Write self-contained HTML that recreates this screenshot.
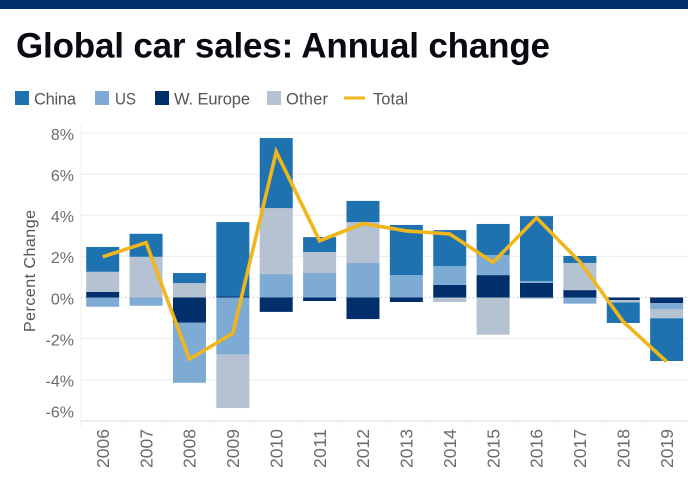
<!DOCTYPE html>
<html lang="en">
<head>
<meta charset="utf-8">
<title>Global car sales: Annual change</title>
<style>
html,body{margin:0;padding:0;background:#fff;width:688px;height:483px;overflow:hidden}
svg{display:block;font-family:"Liberation Sans",sans-serif}
</style>
</head>
<body>
<svg id="chart" width="688" height="483" viewBox="0 0 688 483" xmlns="http://www.w3.org/2000/svg">
  <rect x="0" y="0" width="688" height="9" fill="#002f6c"/>
  <text x="16" y="57.5" font-size="35" font-weight="700" fill="#0a0a12" textLength="534" lengthAdjust="spacing">Global car sales: Annual change</text>
  <g font-size="16.5" fill="#555">
    <g>
      <rect x="15" y="91" width="14" height="14" fill="#1f72b0"/>
      <text x="34" y="104.5" textLength="42" lengthAdjust="spacing">China</text>
    </g>
    <g>
      <rect x="95" y="91" width="14" height="14" fill="#7eabd3"/>
      <text x="115" y="104.5" textLength="21" lengthAdjust="spacingAndGlyphs">US</text>
    </g>
    <g>
      <rect x="155" y="91" width="14" height="14" fill="#002f6c"/>
      <text x="174" y="104.5" textLength="76" lengthAdjust="spacing">W. Europe</text>
    </g>
    <g>
      <rect x="267" y="91" width="14" height="14" fill="#b5c2d1"/>
      <text x="286" y="104.5" textLength="42" lengthAdjust="spacing">Other</text>
    </g>
    <g>
      <line x1="344" x2="365" y1="98" y2="98" stroke="#f0b61c" stroke-width="3"/>
      <text x="373" y="104.5" textLength="35" lengthAdjust="spacing">Total</text>
    </g>
  </g>
  <text transform="translate(35,332) rotate(-90)" font-size="16" fill="#555" textLength="122" lengthAdjust="spacing">Percent Change</text>
  <g id="plot"></g>
</svg>
<script>
const years = ["2006","2007","2008","2009","2010","2011","2012","2013","2014","2015","2016","2017","2018","2019"];
const wEurope = [0.27,0,-1.23,0.05,-0.7,-0.17,-1.05,-0.22,0.61,1.09,0.71,0.36,-0.13,-0.27];
const us = [-0.45,-0.4,-2.92,-2.78,1.14,1.19,1.68,1.09,0.92,0.98,0.09,-0.3,0,-0.29];
const other = [0.98,1.98,0.7,-2.6,3.21,1.02,1.99,0,-0.22,-1.81,-0.07,1.32,-0.11,-0.45];
const china = [1.21,1.12,0.49,3.62,3.41,0.73,1.03,2.44,1.75,1.51,3.16,0.34,-1.0,-2.08];
const total = [1.98,2.67,-3.0,-1.74,7.09,2.76,3.6,3.24,3.09,1.71,3.88,1.74,-1.18,-3.12];
const yTicks = [8,6,4,2,0,-2,-4,-6];

const NS = "http://www.w3.org/2000/svg";
const plot = document.getElementById("plot");
const PLOT_LEFT = 81, PLOT_RIGHT = 688, PLOT_TOP = 125, PLOT_BOTTOM = 421;
const ZERO_Y = 297.5, PX_PER_UNIT = 20.55;
const FIRST_X = 102.7, STEP_X = 43.38, BAR_W = 33;

function yScale(v){ return ZERO_Y - v * PX_PER_UNIT; }
function xScale(i){ return FIRST_X + i * STEP_X; }
function make(tag, attrs){
  const el = document.createElementNS(NS, tag);
  for (const k in attrs) el.setAttribute(k, attrs[k]);
  return el;
}

// vertical axis edge and horizontal grid
const axisEdge = make("line", {x1:PLOT_LEFT, x2:PLOT_LEFT, y1:PLOT_TOP, y2:PLOT_BOTTOM + 6, stroke:"#efefef", "stroke-width":1});


plot.appendChild(axisEdge);

yTicks.forEach(function(t){
  if (t !== 0 && t !== -6) {
    const g = make("line", {x1:PLOT_LEFT, x2:PLOT_RIGHT, y1:yScale(t), y2:yScale(t), stroke:"#ececec", "stroke-width":1});
    
    
    plot.appendChild(g);
  }
  const labelY = Math.min(yScale(t), 410.5) + 6.8;
  const lab = make("text", {x:74, y:labelY, "text-anchor":"end", "font-size":16, fill:"#6b6b6b"});
  
  
  lab.textContent = t + "%";
  plot.appendChild(lab);
});

const baseLine = make("line", {x1:PLOT_LEFT, x2:PLOT_RIGHT, y1:PLOT_BOTTOM, y2:PLOT_BOTTOM, stroke:"#ececec", "stroke-width":2});


plot.appendChild(baseLine);

const zeroLine = make("line", {x1:PLOT_LEFT, x2:PLOT_RIGHT, y1:ZERO_Y, y2:ZERO_Y, stroke:"#a9b4bf", "stroke-width":1, "stroke-dasharray":"1 3"});


plot.appendChild(zeroLine);

// stacked bars: navy, US, other, China outward from zero
const stackOrder = [[wEurope,"#002f6c","bar-w-europe"],[us,"#7eabd3","bar-us"],[other,"#b5c2d1","bar-other"],[china,"#1f72b0","bar-china"]];
years.forEach(function(year, i){
  let pos = 0, neg = 0;
  stackOrder.forEach(function(s){
    const v = s[0][i];
    if (!v) return;
    const start = v > 0 ? pos : neg;
    const end = start + v;
    if (v > 0) pos = end; else neg = end;
    const top = yScale(Math.max(start, end));
    const bottom = yScale(Math.min(start, end));
    const bar = make("rect", {x:xScale(i) - BAR_W / 2, y:top, width:BAR_W, height:bottom - top, fill:s[1]});
    
    
    plot.appendChild(bar);
  });

  const cx = xScale(i);
  const tick = make("line", {x1:cx + STEP_X / 2, x2:cx + STEP_X / 2, y1:PLOT_BOTTOM, y2:PLOT_BOTTOM + 5, stroke:"#f0f0f0", "stroke-width":1});
  
  
  plot.appendChild(tick);

  const yl = make("text", {transform:"translate(" + (cx + 6.2) + ",468) rotate(-90)", "font-size":17.5, fill:"#6b6b6b", textLength:39, lengthAdjust:"spacing"});
  
  
  yl.textContent = year;
  plot.appendChild(yl);
});

// total line
const pts = total.map(function(v, i){ return xScale(i) + "," + yScale(v); }).join(" ");
const totalLine = make("polyline", {points:pts, fill:"none", stroke:"#f0b61c", "stroke-width":3.6, "stroke-linejoin":"miter"});


plot.appendChild(totalLine);
</script>
</body>
</html>
